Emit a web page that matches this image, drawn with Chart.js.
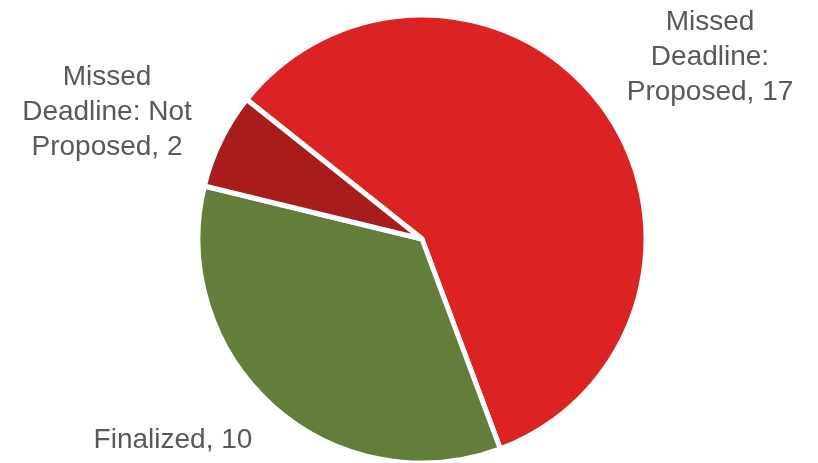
<!DOCTYPE html>
<html>
<head>
<meta charset="utf-8">
<script src="https://cdn.jsdelivr.net/npm/chart.js@4/dist/chart.umd.min.js"></script>
<style>
  html, body { margin: 0; padding: 0; background: #fff; }
  #wrap { width: 818px; height: 463px; }
</style>
</head>
<body>
<div id="wrap"><canvas id="pie_chart" width="818" height="463"></canvas></div>
<script>
// status breakdown
const categories = ['Missed Deadline: Proposed', 'Finalized', 'Missed Deadline: Not Proposed'];
const counts = [17, 10, 2];
const slice_colors = ['#DC2323', '#637E3A', '#A81C1C'];

// label text lines and their centre points
const label_lines = [
	['Missed', 'Deadline:', 'Proposed, 17'],
	['Finalized, 10'],
	['Missed', 'Deadline: Not', 'Proposed, 2']
];
const label_spots = [
	{ x: 710, y: 57 },
	{ x: 173, y: 440 },
	{ x: 107, y: 112 }
];

const pie_labels = {
	id: 'pie_labels',
	afterDraw(chart) {
		const ctx = chart.ctx;
		const line_h = 35;
		ctx.save();
		ctx.font = '28px "Liberation Sans", Arial, sans-serif';
		ctx.fillStyle = '#595959';
		ctx.textAlign = 'center';
		ctx.textBaseline = 'middle';
		label_lines.forEach((lines, i) => {
			const spot = label_spots[i];
			const top = spot.y - (lines.length - 1) * line_h / 2;
			lines.forEach((txt, j) => {
				ctx.fillText(txt, spot.x, top + j * line_h);
			});
		});
		ctx.restore();
	}
};

const pie_ctx = document.getElementById('pie_chart').getContext('2d');

const pie_chart = new Chart(pie_ctx, {
	type: 'pie',
	data: {
		labels: categories,
		datasets: [{
			data: counts,
			backgroundColor: slice_colors,
			borderColor: '#ffffff',
			borderWidth: 5
		}]
	},
	options: {
		responsive: false,
		animation: false,
		rotation: -51.5,
		radius: 224,
		layout: {
			padding: { left: 199, right: 173, top: 16, bottom: 1 }
		},
		plugins: {
			legend: { display: false },
			tooltip: { enabled: false }
		}
	},
	plugins: [pie_labels]
});
</script>
</body>
</html>
